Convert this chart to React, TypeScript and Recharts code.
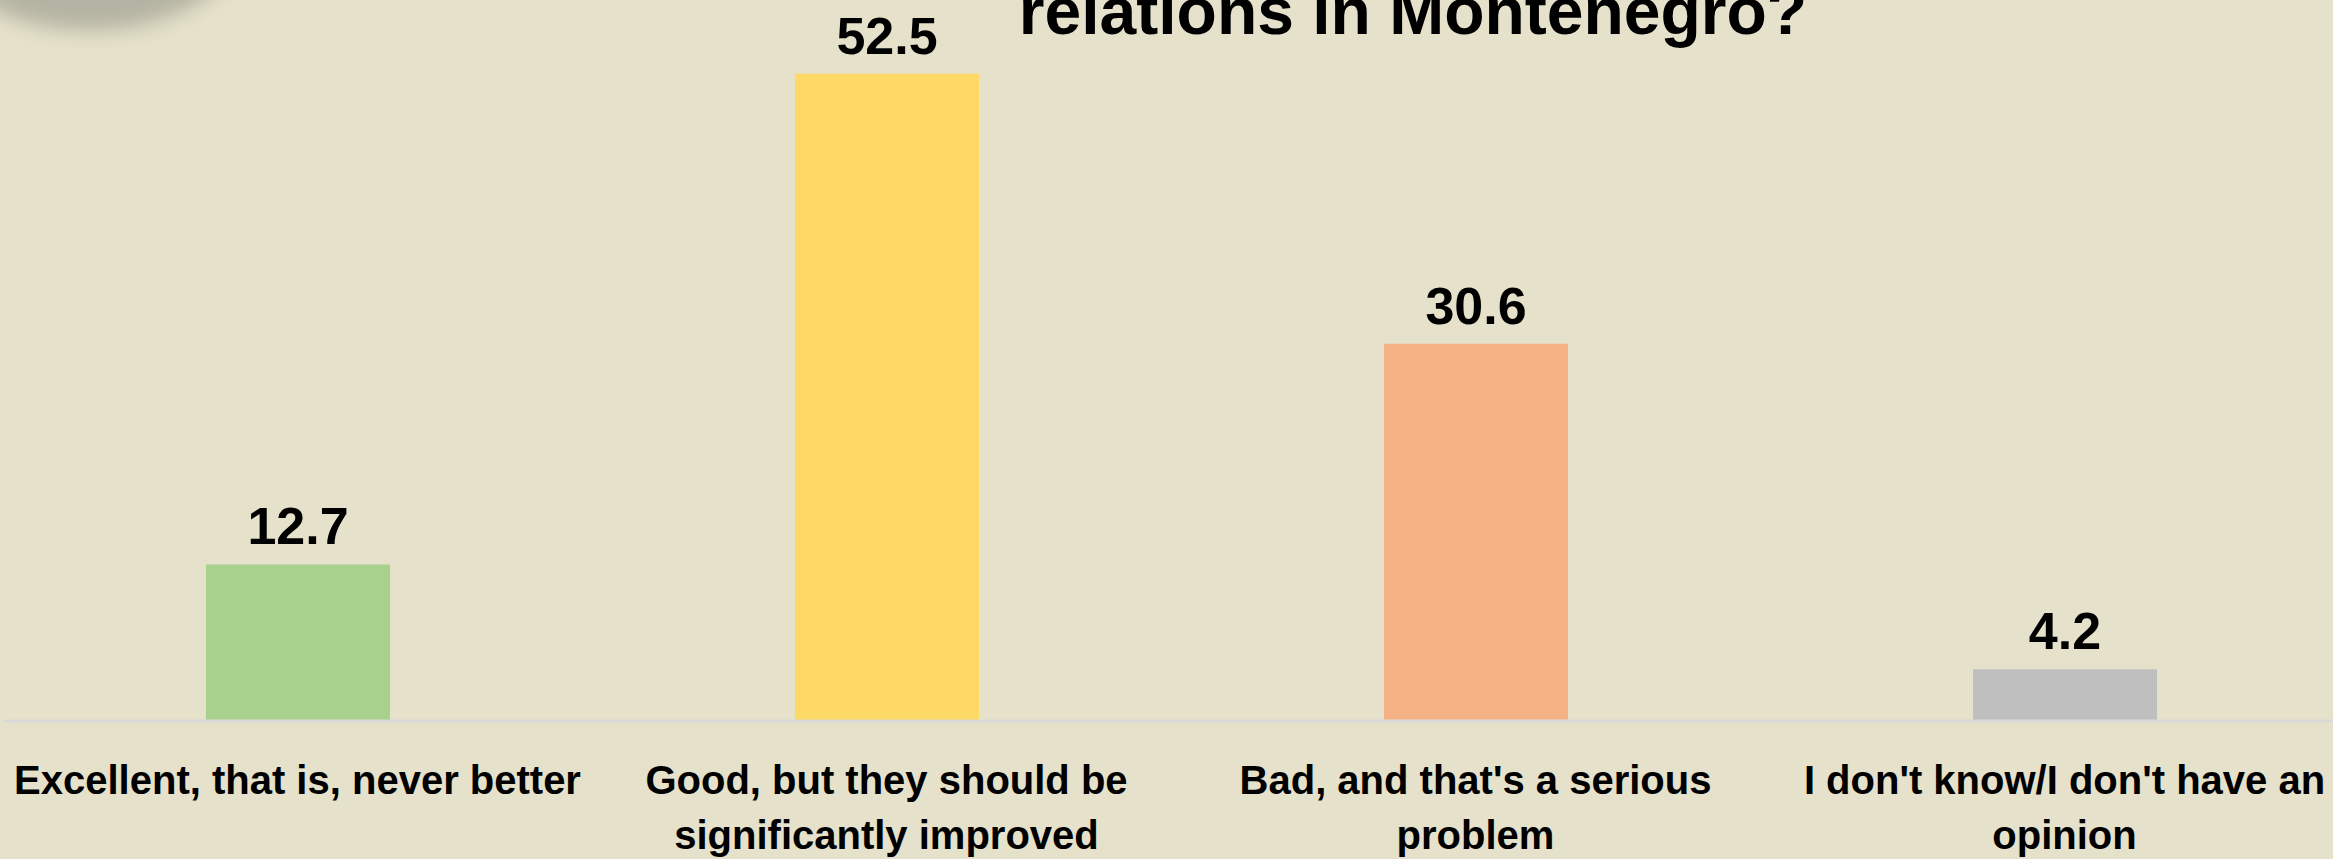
import React from "react";
import { BarChart, Bar, XAxis, YAxis, Cell, LabelList } from "recharts";

// survey answers, left to right
const categories = [
  "Excellent, that is, never better",
  "Good, but they should be significantly improved",
  "Bad, and that's a serious problem",
  "I don't know/I don't have an opinion",
];
// how the slide wraps each answer
const tickLines = [
  ["Excellent, that is, never better"],
  ["Good, but they should be", "significantly improved"],
  ["Bad, and that's a serious", "problem"],
  ["I don't know/I don't have an", "opinion"],
];
const shares = [12.7, 52.5, 30.6, 4.2];
const barColors = ["#A9D18E", "#FFD966", "#F4B183", "#BFBFBF"];
const titleLine = "relations in Montenegro?";

const data = categories.map((c, i) => ({ category: c, value: shares[i] }));

const FONT = "'Liberation Sans', Arial, sans-serif";

function CategoryTick(props: any) {
  const { x, y, payload } = props;
  const idx = categories.indexOf(payload.value);
  const lines = tickLines[idx] ?? [payload.value];
  return (
    <text
      x={x}
      y={y}
      textAnchor="middle"
      fontFamily={FONT}
      fontWeight="bold"
      fontSize={40}
      fill="#000"
    >
      {lines.map((l, i) => (
        <tspan key={i} x={x} dy={i === 0 ? 73 : 55}>
          {l}
        </tspan>
      ))}
    </text>
  );
}

export default function App() {
  return (
    <div
      style={{
        position: "absolute",
        left: 0,
        top: 0,
        width: 2333,
        height: 859,
        overflow: "hidden",
        background: "#E5E1CA",
        fontFamily: FONT,
      }}
    >
      {/* soft shadow of a shape poking in at the top-left corner */}
      <div
        style={{
          position: "absolute",
          left: -60,
          top: -150,
          width: 300,
          height: 180,
          borderRadius: "50%",
          background: "rgba(140,140,130,0.55)",
          filter: "blur(10px)",
        }}
      />
      <div style={{ position: "absolute", left: 0, top: 0 }}>
        <BarChart
          width={2359}
          height={859}
          data={data}
          margin={{ top: 6, right: 0, bottom: 0, left: 3 }}
        >
          <XAxis
            dataKey="category"
            interval={0}
            height={138}
            tickLine={false}
            tickSize={0}
            tickMargin={0}
            axisLine={{ stroke: "#D9D9D9", strokeWidth: 3 }}
            tick={<CategoryTick />}
          />
          <YAxis hide domain={[0, 58]} />
          <Bar dataKey="value" barSize={184} isAnimationActive={false}>
            {data.map((d, i) => (
              <Cell key={d.category} fill={barColors[i]} />
            ))}
            <LabelList
              dataKey="value"
              position="top"
              offset={20}
              fill="#000"
              fontFamily={FONT}
              fontWeight="bold"
              fontSize={52}
            />
          </Bar>
        </BarChart>
      </div>
      <svg
        width={2333}
        height={859}
        style={{ position: "absolute", left: 0, top: 0, pointerEvents: "none" }}
      >
        <text
          x={1413}
          y={34}
          textAnchor="middle"
          fontFamily={FONT}
          fontWeight="bold"
          fontSize={66}
          fill="#000"
        >
          {titleLine}
        </text>
      </svg>
    </div>
  );
}
